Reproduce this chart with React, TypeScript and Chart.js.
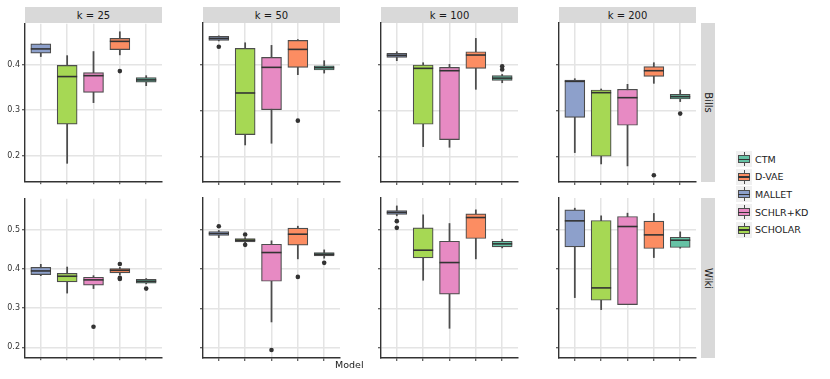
import React, { useEffect, useRef } from 'react';
import { Chart, registerables } from 'chart.js';
Chart.register(...registerables);

// ---------- data ----------
const models = ['MALLET', 'SCHOLAR', 'SCHLR+KD', 'D-VAE', 'CTM'];
const modelColors = ['#8DA0CB', '#A6D854', '#E78AC3', '#FC8D62', '#66C2A5'];
const kLabels = ['k = 25', 'k = 50', 'k = 100', 'k = 200'];
const corpusLabels = ['Bills', 'Wiki'];
const legendOrder = ['CTM', 'D-VAE', 'MALLET', 'SCHLR+KD', 'SCHOLAR'];
const billsTicks = [0.2, 0.3, 0.4];
const wikiTicks = [0.2, 0.3, 0.4, 0.5];
const billsRange = [0.144, 0.49];
const wikiRange = [0.175, 0.579];

// [lower whisker, Q1, median, Q3, upper whisker] per model
const bills25 = [
  [0.418, 0.4254, 0.4348, 0.4457, 0.446],
  [0.1833, 0.2696, 0.374, 0.3986, 0.42],
  [0.3167, 0.3391, 0.376, 0.3826, 0.429],
  [0.4217, 0.4333, 0.4514, 0.458, 0.4725],
  [0.354, 0.3616, 0.3667, 0.3717, 0.376],
];
const bills25Out = [[3, 0.386]];
const bills50 = [
  [0.451, 0.452, 0.4565, 0.461, 0.462],
  [0.2246, 0.2471, 0.3377, 0.4348, 0.447],
  [0.2283, 0.3014, 0.3935, 0.4152, 0.4413],
  [0.3775, 0.3935, 0.4326, 0.4522, 0.454],
  [0.381, 0.3877, 0.3928, 0.397, 0.408],
];
const bills50Out = [[0, 0.4384], [3, 0.2775]];
const bills100 = [
  [0.408, 0.4152, 0.4196, 0.424, 0.4275],
  [0.221, 0.2696, 0.3913, 0.3986, 0.4036],
  [0.2196, 0.2362, 0.3862, 0.3935, 0.4],
  [0.3457, 0.3913, 0.4203, 0.4275, 0.4565],
  [0.36, 0.3652, 0.37, 0.3754, 0.378],
];
const bills100Out = [[4, 0.396], [4, 0.389]];
const bills200 = [
  [0.208, 0.2848, 0.363, 0.366, 0.3688],
  [0.1833, 0.2, 0.3384, 0.3442, 0.3464],
  [0.179, 0.2674, 0.3275, 0.3457, 0.3565],
  [0.3587, 0.374, 0.3862, 0.395, 0.4036],
  [0.319, 0.3246, 0.3297, 0.3348, 0.3442],
];
const bills200Out = [[3, 0.1587], [4, 0.2928]];
const wiki25 = [
  [0.383, 0.3857, 0.395, 0.4042, 0.4118],
  [0.3385, 0.3671, 0.3815, 0.389, 0.405],
  [0.35, 0.3587, 0.3722, 0.379, 0.383],
  [0.385, 0.3899, 0.3966, 0.4008, 0.404],
  [0.362, 0.3638, 0.3688, 0.3739, 0.3756],
];
const wiki25Out = [[2, 0.2526], [3, 0.4126], [3, 0.3773], [3, 0.3747], [4, 0.35]];
const wiki50 = [
  [0.479, 0.4842, 0.4893, 0.4944, 0.497],
  [0.466, 0.4682, 0.4724, 0.4767, 0.479],
  [0.266, 0.3688, 0.4413, 0.4623, 0.4708],
  [0.4253, 0.4598, 0.4876, 0.5028, 0.5078],
  [0.427, 0.4329, 0.437, 0.4413, 0.448],
];
const wiki50Out = [[0, 0.5078], [1, 0.4868], [1, 0.4607], [2, 0.1953], [3, 0.3798], [4, 0.4152]];
const wiki100 = [
  [0.534, 0.5373, 0.5424, 0.5474, 0.559],
  [0.3713, 0.4278, 0.4472, 0.5036, 0.5365],
  [0.25, 0.336, 0.416, 0.4699, 0.5146],
  [0.4253, 0.4767, 0.5297, 0.539, 0.5491],
  [0.453, 0.4556, 0.4632, 0.4699, 0.475],
];
const wiki100Out = [[0, 0.5205], [0, 0.5036]];
const wiki200 = [
  [0.3275, 0.4556, 0.5213, 0.5491, 0.5533],
  [0.2972, 0.3208, 0.352, 0.5222, 0.534],
  [0.31, 0.3099, 0.507, 0.5323, 0.5407],
  [0.4286, 0.4514, 0.4859, 0.5205, 0.54],
  [0.4522, 0.4539, 0.4724, 0.48, 0.4935],
];
const wiki200Out: number[][] = [];

const billsPanels = [bills25, bills50, bills100, bills200];
const billsOutliers = [bills25Out, bills50Out, bills100Out, bills200Out];
const wikiPanels = [wiki25, wiki50, wiki100, wiki200];
const wikiOutliers = [wiki25Out, wiki50Out, wiki100Out, wiki200Out];

// ---------- layout ----------
const FONT = '"DejaVu Sans", Verdana, sans-serif';
const colLeft = [25, 203, 381, 559];
const plotW = 137;
const rowTop = [23, 198];
const rowH = [159, 160];
const PADT = 6;
const PADR = 6;
const BOT = 6;
const GRID = '#E4E4E4';

const medianPlugin = {
  id: 'medians',
  afterDatasetsDraw(chart: any, _args: any, opts: any) {
    const meta = chart.getDatasetMeta(1);
    const y = chart.scales.y;
    const ctx = chart.ctx;
    const vals: number[] = opts.values || [];
    ctx.save();
    ctx.strokeStyle = '#333333';
    ctx.lineWidth = 1.6;
    meta.data.forEach((bar: any, i: number) => {
      const p = bar.getProps(['x', 'width'], true);
      const py = y.getPixelForValue(vals[i]);
      ctx.beginPath();
      ctx.moveTo(p.x - p.width / 2, py);
      ctx.lineTo(p.x + p.width / 2, py);
      ctx.stroke();
    });
    ctx.restore();
  },
};

function Panel(props: {
  stats: number[][];
  outliers: number[][];
  ticks: number[];
  range: number[];
  showLabels: boolean;
  left: number;
  top: number;
  h: number;
}) {
  const ref = useRef<HTMLCanvasElement>(null);
  const { stats, outliers, ticks, range, showLabels, left, top, h } = props;
  const AX = showLabels ? 25 : 5;
  const cw = AX + plotW + PADR;
  const ch = PADT + h + BOT;
  useEffect(() => {
    if (!ref.current) return;
    const xs = models.map((_, i) => i + 1);
    const chart = new Chart(ref.current, {
      type: 'bar',
      data: {
        datasets: [
          {
            type: 'bar',
            data: stats.map((s, i) => ({ x: xs[i], y: [s[0], s[4]] })) as any,
            backgroundColor: '#4D4D4D',
            borderWidth: 0,
            barThickness: 1.1,
            grouped: false,
            order: 3,
            clip: false as any,
          },
          {
            type: 'bar',
            data: stats.map((s, i) => ({ x: xs[i], y: [s[1], s[3]] })) as any,
            backgroundColor: modelColors,
            borderColor: '#4D4D4D',
            borderWidth: 1.2,
            borderSkipped: false,
            barThickness: 20,
            grouped: false,
            order: 2,
            clip: false as any,
          },
          {
            type: 'scatter',
            data: outliers.map((o) => ({ x: xs[o[0]], y: o[1] })) as any,
            backgroundColor: '#333333',
            borderWidth: 0,
            pointRadius: 2.3,
            order: 1,
            clip: false as any,
          } as any,
        ],
      },
      options: {
        animation: false,
        responsive: false,
        events: [],
        layout: { padding: { top: PADT, right: PADR, left: 0, bottom: 0 } },
        plugins: {
          legend: { display: false },
          tooltip: { enabled: false },
          medians: { values: stats.map((s) => s[2]) },
        } as any,
        scales: {
          x: {
            type: 'linear',
            min: 0.4,
            max: 5.6,
            offset: false,
            afterBuildTicks: (s: any) => {
              s.ticks = xs.map((v) => ({ value: v }));
            },
            afterFit: (s: any) => {
              s.height = BOT;
            },
            grid: { offset: false, color: GRID, lineWidth: 1.5, tickColor: '#333333', tickWidth: 1, tickLength: 3, drawTicks: true },
            border: { display: true, color: '#333333', width: 1.4 },
            ticks: { display: false },
          },
          y: {
            type: 'linear',
            min: range[0],
            max: range[1],
            afterBuildTicks: (s: any) => {
              s.ticks = ticks.map((v) => ({ value: v }));
            },
            afterFit: (s: any) => {
              s.width = AX;
            },
            grid: { color: GRID, lineWidth: 1.5, tickColor: '#333333', tickWidth: 1, tickLength: 3, drawTicks: true },
            border: { display: true, color: '#333333', width: 1.4 },
            ticks: {
              display: showLabels,
              padding: 2,
              color: '#333333',
              font: { family: FONT, size: 8 },
              callback: (v: any) => Number(v).toFixed(1),
            },
          },
        },
      } as any,
      plugins: [medianPlugin],
    });
    return () => chart.destroy();
  }, []);
  return (
    <canvas
      ref={ref}
      width={cw}
      height={ch}
      style={{ position: 'absolute', left: left - AX, top: top - PADT, width: cw, height: ch }}
    />
  );
}

function LegendKey({ color }: { color: string }) {
  return (
    <div style={{ position: 'relative', width: 16, height: 16, background: '#F0F0F0' }}>
      <div style={{ position: 'absolute', left: 7.5, top: 1, width: 1, height: 14, background: '#4D4D4D' }} />
      <div
        style={{
          position: 'absolute',
          left: 2,
          top: 4,
          width: 12,
          height: 8,
          boxSizing: 'border-box',
          background: color,
          border: '1px solid #4D4D4D',
        }}
      />
      <div style={{ position: 'absolute', left: 2, top: 7.5, width: 12, height: 1.4, background: '#333' }} />
    </div>
  );
}

export default function App() {
  const stripStyle: React.CSSProperties = {
    position: 'absolute',
    background: '#D9D9D9',
    color: '#1A1A1A',
    fontFamily: FONT,
    fontSize: 10,
    display: 'flex',
    alignItems: 'center',
    justifyContent: 'center',
    whiteSpace: 'nowrap',
  };
  return (
    <div style={{ position: 'absolute', left: 0, top: 0, width: 830, height: 379, background: '#fff', overflow: 'hidden' }}>
      {kLabels.map((k, c) => (
        <div key={k} style={{ ...stripStyle, left: colLeft[c], top: 7, width: plotW, height: 16 }}>
          {k}
        </div>
      ))}
      {corpusLabels.map((lab, r) => (
        <div key={lab} style={{ ...stripStyle, left: 701, top: rowTop[r], width: 14, height: rowH[r] }}>
          <span style={{ display: 'inline-block', transform: 'rotate(90deg)' }}>{lab}</span>
        </div>
      ))}
      {billsPanels.map((p, c) => (
        <Panel
          key={'b' + c}
          stats={p}
          outliers={billsOutliers[c]}
          ticks={billsTicks}
          range={billsRange}
          showLabels={c === 0}
          left={colLeft[c]}
          top={rowTop[0]}
          h={rowH[0]}
        />
      ))}
      {wikiPanels.map((p, c) => (
        <Panel
          key={'w' + c}
          stats={p}
          outliers={wikiOutliers[c]}
          ticks={wikiTicks}
          range={wikiRange}
          showLabels={c === 0}
          left={colLeft[c]}
          top={rowTop[1]}
          h={rowH[1]}
        />
      ))}
      <div style={{ position: 'absolute', left: 335, top: 359, fontFamily: FONT, fontSize: 9.5, color: '#1A1A1A' }}>Model</div>
      {legendOrder.map((m, i) => (
        <div
          key={m}
          style={{ position: 'absolute', left: 736, top: 151 + i * 17.7, height: 16, display: 'flex', alignItems: 'center' }}
        >
          <LegendKey color={modelColors[models.indexOf(m)]} />
          <span style={{ marginLeft: 3, fontFamily: FONT, fontSize: 9.5, color: '#1A1A1A', whiteSpace: 'nowrap' }}>{m}</span>
        </div>
      ))}
    </div>
  );
}
